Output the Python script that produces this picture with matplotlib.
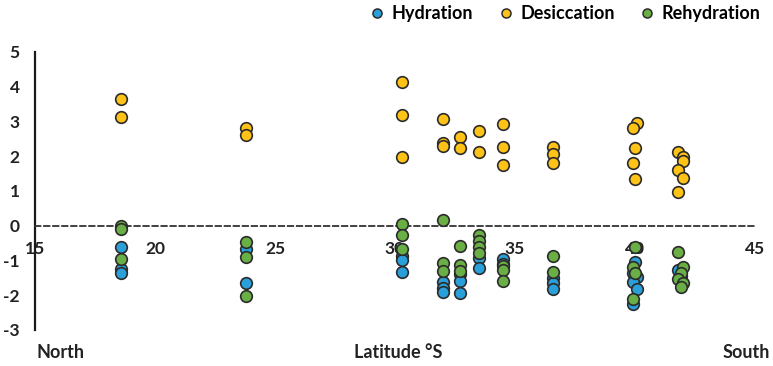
import matplotlib
matplotlib.use("Agg")
import matplotlib.pyplot as plt
from matplotlib.lines import Line2D

plt.rcParams['font.family'] = ['Lato', 'DejaVu Sans']
plt.rcParams['font.weight'] = 'bold'

# Hydration
hyd_lat = [18.6, 18.6, 18.6,
           23.8, 23.8,
           30.3, 30.3, 30.3,
           32.0, 32.0, 32.0,
           32.7, 32.7, 32.7,
           33.5, 33.5,
           34.5, 34.5,
           36.6, 36.6, 36.6,
           40.0, 39.9, 40.1, 39.9, 40.1, 39.9,
           41.8, 41.9]
hyd_val = [-0.60, -1.24, -1.37,
           -0.68, -1.66,
           -0.86, -0.98, -1.34,
           -1.61, -1.78, -1.90,
           -1.39, -1.59, -1.95,
           -0.94, -1.23,
           -0.97, -1.10,
           -1.50, -1.66, -1.82,
           -1.05, -1.37, -1.48, -1.62, -1.82, -2.25,
           -1.26, -1.45]

# Desiccation
des_lat = [18.6, 18.6,
           23.8, 23.8,
           30.3, 30.3, 30.3,
           32.0, 32.0, 32.0,
           32.7, 32.7,
           33.5, 33.5,
           34.5, 34.5, 34.5,
           36.6, 36.6, 36.6,
           40.1, 39.9, 40.0, 39.9, 40.0,
           41.8, 42.0, 42.0, 41.8, 42.0, 41.8]
des_val = [3.64, 3.12,
           2.81, 2.62,
           4.14, 3.18, 1.97,
           3.08, 2.39, 2.28,
           2.54, 2.23,
           2.72, 2.12,
           2.94, 2.26, 1.75,
           2.26, 2.07, 1.80,
           2.97, 2.80, 2.23, 1.81, 1.35,
           2.12, 1.97, 1.85, 1.59, 1.37, 0.97]

# Rehydration
reh_lat = [18.6, 18.6, 18.6,
           23.8, 23.8, 23.8,
           30.3, 30.3, 30.3,
           32.0, 32.0, 32.0,
           32.7, 32.7, 32.7,
           33.5, 33.5, 33.5, 33.5,
           34.5, 34.5, 34.5,
           36.6, 36.6,
           40.0, 39.9, 40.0, 39.9,
           41.8, 42.0, 41.9, 41.8, 42.0, 41.9]
reh_val = [0.00, -0.09, -0.95,
           -0.48, -0.89, -2.01,
           0.05, -0.28, -0.68,
           0.16, -1.06, -1.31,
           -0.58, -1.14, -1.30,
           -0.27, -0.43, -0.61, -0.78,
           -1.17, -1.28, -1.60,
           -0.87, -1.33,
           -0.62, -1.20, -1.35, -2.12,
           -0.75, -1.18, -1.37, -1.52, -1.66, -1.76]

x_ticks = [15, 20, 25, 30, 35, 40, 45]
y_ticks = [-3, -2, -1, 0, 1, 2, 3, 4, 5]

c_hyd = '#2AA0DA'
c_des = '#FFC217'
c_reh = '#69AF45'
edge = '#2B2B2B'
txt = '#222222'

fig = plt.figure(figsize=(7.73, 3.66), dpi=100)
ax = fig.add_axes([0.0453, 0.0984, 0.9314, 0.7596])

# horizontal axis runs through y = 0 as a dashed line
for side in ['top', 'right']:
    ax.spines[side].set_visible(False)
ax.spines['bottom'].set_position(('data', 0))
ax.spines['bottom'].set_linestyle((0, (3, 2)))
ax.spines['bottom'].set_color('#333333')
ax.spines['bottom'].set_linewidth(1.3)
ax.spines['left'].set_color('#1a1a1a')
ax.spines['left'].set_linewidth(1.6)

kw = dict(s=70, edgecolors=edge, linewidths=1.2, zorder=3)
ax.scatter(hyd_lat, hyd_val, color=c_hyd, **kw)
ax.scatter(des_lat, des_val, color=c_des, **kw)
ax.scatter(reh_lat, reh_val, color=c_reh, **kw)

ax.set_xlim(15, 45)
ax.set_ylim(-3, 5)
ax.set_xticks(x_ticks)
ax.set_yticks(y_ticks)
ax.set_xticklabels([str(t) for t in x_ticks], fontsize=12.5, fontweight='bold', color=txt)
ax.set_yticklabels([str(t) for t in y_ticks], fontsize=12.5, fontweight='bold', color=txt)
ax.tick_params(axis='both', length=0)
ax.tick_params(axis='x', pad=11)
ax.tick_params(axis='y', pad=11)

handles = [Line2D([], [], marker='o', linestyle='none', markersize=6.5,
                  markerfacecolor=c, markeredgecolor=edge, markeredgewidth=1.1, label=l)
           for c, l in [(c_hyd, 'Hydration'), (c_des, 'Desiccation'), (c_reh, 'Rehydration')]]
fig.legend(handles=handles, loc='center right', bbox_to_anchor=(0.998, 0.962), ncol=3,
           frameon=False, prop={'size': 13, 'weight': 'bold'}, handletextpad=0.3,
           columnspacing=1.3, handlelength=1.0, borderaxespad=0.2)

fig.text(36 / 773, 1 - 352 / 366, 'North', ha='left', va='center', fontsize=13, fontweight='bold', color=txt)
fig.text(398 / 773, 1 - 352 / 366, 'Latitude °S', ha='center', va='center', fontsize=13, fontweight='bold', color=txt)
fig.text(770 / 773, 1 - 352 / 366, 'South', ha='right', va='center', fontsize=13, fontweight='bold', color=txt)

fig.savefig('out.png', dpi=100)
